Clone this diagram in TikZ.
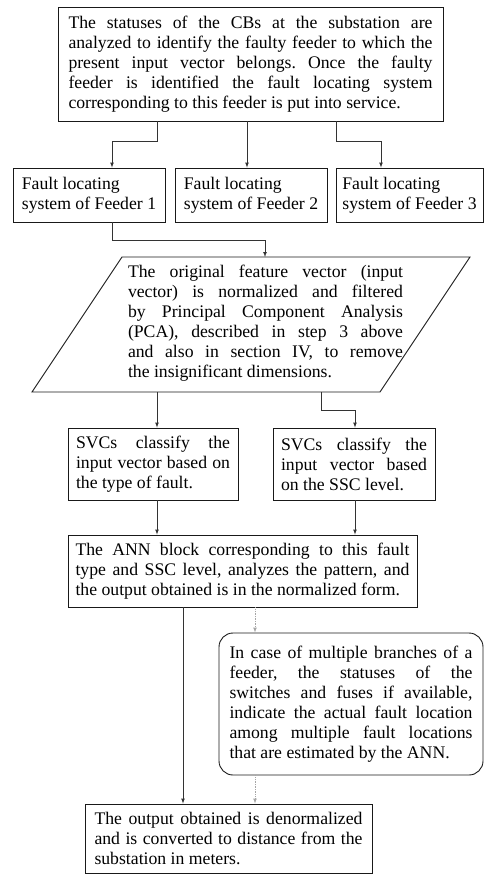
\documentclass[tikz,border=0pt]{standalone}
\usepackage{fontspec}
\setmainfont{Liberation Serif}
\frenchspacing
\tolerance=10000
\hbadness=10000
\hyphenpenalty=10000
\begin{document}
\begin{tikzpicture}[x=1pt,y=-1pt,
    block/.style={draw=black!90, line width=0.9pt, inner xsep=4pt, inner ysep=0pt,
      align=justify, font=\fontsize{17.7}{20}\selectfont},
    link/.style={draw=black!80, line width=0.7pt, -latex},
    hint/.style={draw=black!35, line width=0.7pt, densely dotted, -latex}]
  \useasboundingbox (0,0) rectangle (484,875);

  \node[block, text width=364, minimum width=385, minimum height=114] (top) at (250.5,64)
    {The statuses of the CBs at the substation are\linebreak
     analyzed to identify the faulty feeder to which the\linebreak
     present input vector belongs. Once the faulty\linebreak
     feeder is identified the fault locating system\linebreak
     corresponding to this feeder is put into service.};

  \node[block, align=left, minimum width=152, minimum height=54] (feeder1) at (89,195)
    {Fault locating\\system of Feeder 1};
  \node[block, align=left, minimum width=152, minimum height=54] (feeder2) at (251,195)
    {Fault locating\\system of Feeder 2};
  \node[block, align=left, minimum width=147, minimum height=54] (feeder3) at (409.5,195)
    {Fault locating\\system of Feeder 3};

  \draw[block] (122,257) -- (470,257) -- (380,392) -- (32,392) -- cycle;
  \coordinate (pcaTop) at (265,257);
  \coordinate (pcaBotL) at (157,392);
  \coordinate (pcaBotR) at (321,392);
  \node[block, draw=none, text width=275] (pca) at (265.5,323)
    {The original feature vector (input\linebreak
     vector) is normalized and filtered\linebreak
     by Principal Component Analysis\linebreak
     (PCA), described in step 3 above\linebreak
     and also in section IV, to remove\linebreak
     the insignificant dimensions.};

  \node[block, text width=154, minimum width=170, minimum height=72] (svc1) at (153,464)
    {SVCs classify the\linebreak
     input vector based on\linebreak
     the type of fault.};
  \node[block, text width=146, minimum width=162, minimum height=72] (svc2) at (354,464)
    {SVCs classify the\linebreak
     input vector based\linebreak
     on the SSC level.};

  \node[block, text width=334, minimum width=349, minimum height=72] (ann) at (242.5,571)
    {The ANN block corresponding to this fault\linebreak
     type and SSC level, analyzes the pattern, and\linebreak
     the output obtained is in the normalized form.};

  \node[block, rounded corners=14, text width=243, minimum width=264, minimum height=142] (note) at (351,704)
    {In case of multiple branches of a\linebreak
     feeder, the statuses of the\linebreak
     switches and fuses if available,\linebreak
     indicate the actual fault location\linebreak
     among multiple fault locations\linebreak
     that are estimated by the ANN.};

  \node[block, text width=268, minimum width=287, minimum height=69] (final) at (228.5,838.5)
    {The output obtained is denormalized\linebreak
     and is converted to distance from the\linebreak
     substation in meters.};

  \draw[link] ([xshift=-93.5]top.south) -- ++(0,20) -| ([xshift=23]feeder1.north);
  \draw[link] ([xshift=-3.5]top.south) -- ([xshift=-4]feeder2.north);
  \draw[link] ([xshift=85.5]top.south) -- ++(0,20) -| ([xshift=-28.5]feeder3.north);
  \draw[link] ([xshift=23]feeder1.south) -- ++(0,18) -| (pcaTop);
  \draw[link] (pcaBotL) -- ([xshift=4]svc1.north);
  \draw[link] (pcaBotR) -- ++(0,18) -| ([xshift=1]svc2.north);
  \draw[link] ([xshift=4]svc1.south) -- ([xshift=-85.5]ann.north);
  \draw[link] ([xshift=1]svc2.south) -- ([xshift=112.5]ann.north);
  \draw[link] ([xshift=-59.5]ann.south) -- ([xshift=-45.5]final.north);
  \draw[hint] ([xshift=12.5]ann.south) -- ([xshift=-96]note.north);
  \draw[hint] ([xshift=-96]note.south) -- ([xshift=26.5]final.north);
\end{tikzpicture}
\end{document}
